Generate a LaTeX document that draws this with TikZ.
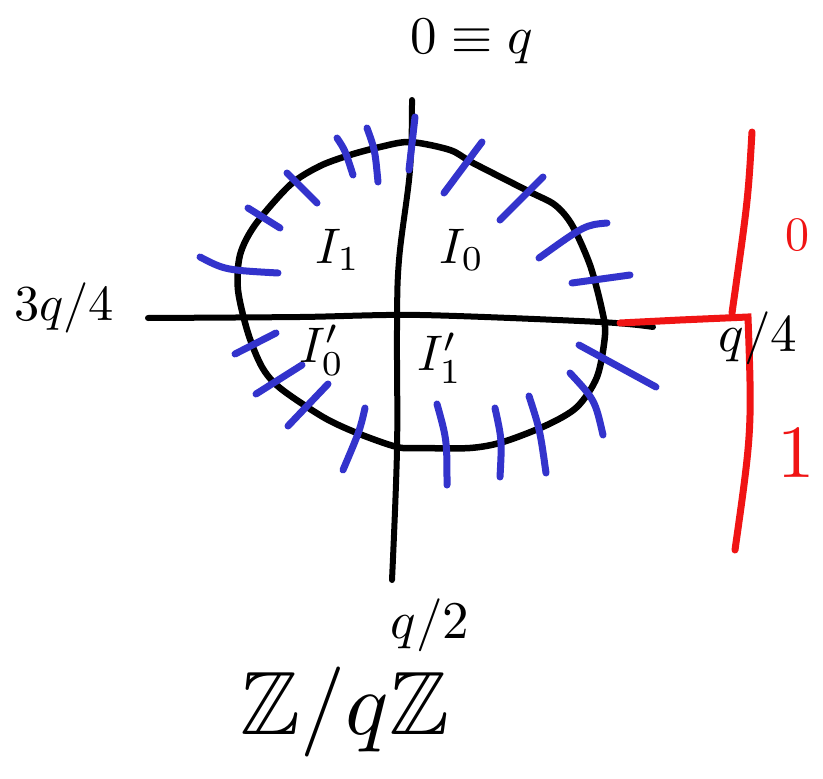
\documentclass[tikz,border=0pt]{standalone}
\usepackage{amssymb}
\definecolor{tickblue}{RGB}{51,51,204}
\definecolor{redline}{RGB}{240,20,20}
\tikzset{
  axis/.style={line width=6pt, line cap=round, black},
  blob/.style={line width=6.5pt, black},
  tick/.style={line width=7pt, line cap=round, tickblue},
  redstroke/.style={line width=7pt, line cap=round, line join=miter, redline},
  lbl/.style={inner sep=0pt, scale=5.3},
  reglbl/.style={inner sep=0pt, scale=5},
  redlbl/.style={inner sep=0pt, text=redline}
}
\begin{document}
\begin{tikzpicture}[x=1pt,y=-1pt]
\useasboundingbox (0,0) rectangle (823,779);
\fill[white] (0,0) rectangle (823,779);

% axes
\draw[axis] plot[smooth, tension=0.6] coordinates {(412,100) (410,170) (399,260) (397,330) (397,450) (392,580)};
\draw[axis] plot[smooth, tension=0.5] coordinates {(148,318) (300,317) (420,315) (600,322) (653,327)};

% closed region
\draw[blob] plot[smooth cycle, tension=0.5] coordinates {
 (410,142) (450,150) (473,163) (530,192) (555,205) (572,225)
 (590,265) (602,310) (605,335) (597,377) (577,407) (547,425) (503,442)
 (470,448) (420,448) (397,447) (357,433) (323,417) (280,388) (262,367)
 (248,333) (238,290) (240,255) (255,225) (290,185)
 (320,166) (350,155) (380,147)};

% blue ticks
\draw[tick] (415,117) -- (409,170);
\draw[tick] (367,128) .. controls (375,150) .. (378,182);
\draw[tick] (337,138) .. controls (345,150) .. (353,175);
\draw[tick] (287,173) -- (317,203);
\draw[tick] (248,208) -- (280,228);
\draw[tick] (200,257) .. controls (225,270) .. (278,273);
\draw[tick] (482,142) -- (444,193);
\draw[tick] (543,177) -- (500,220);
\draw[tick] (607,223) .. controls (585,225) .. (539,258);
\draw[tick] (630,275) -- (572,283);
\draw[tick] (276,333) -- (235,354);
\draw[tick] (302,365) -- (256,394);
\draw[tick] (328,384) -- (288,426);
\draw[tick] (365,408) .. controls (360,430) .. (343,470);
\draw[tick] (579,345) -- (656,387);
\draw[tick] (570,373) .. controls (595,400) .. (603,435);
\draw[tick] (529,396) .. controls (540,430) .. (546,473);
\draw[tick] (495,408) .. controls (502,440) .. (500,477);
\draw[tick] (437,404) .. controls (447,440) .. (447,485);

% red marks
\draw[redstroke] (752,132) .. controls (748,200) .. (732,313);
\draw[redstroke] (620,323) -- (680,320) -- (748,317) .. controls (752,430) .. (735,550);

% labels
\node[lbl] (top) at (472,42) {$0\equiv q$};
\node[lbl, scale=0.95] (left) at (64,308) {$3q/4$};
\node[lbl] (right) at (758,338) {$q/4$};
\node[lbl] (bottom) at (430,625) {$q/2$};
\node[inner sep=0pt, scale=9] (ring) at (345,712) {$\mathbb{Z}/q\mathbb{Z}$};
\node[reglbl] (i1) at (338,250) {$I_1$};
\node[reglbl] (i0) at (462,250) {$I_0$};
\node[reglbl] (i0p) at (322,350) {$I_0'$};
\node[reglbl] (i1p) at (440,358) {$I_1'$};
\node[redlbl, scale=4.8] (r0) at (797,235) {$0$};
\node[redlbl, scale=7.5] (r1) at (796,453) {$1$};
\end{tikzpicture}
\end{document}
